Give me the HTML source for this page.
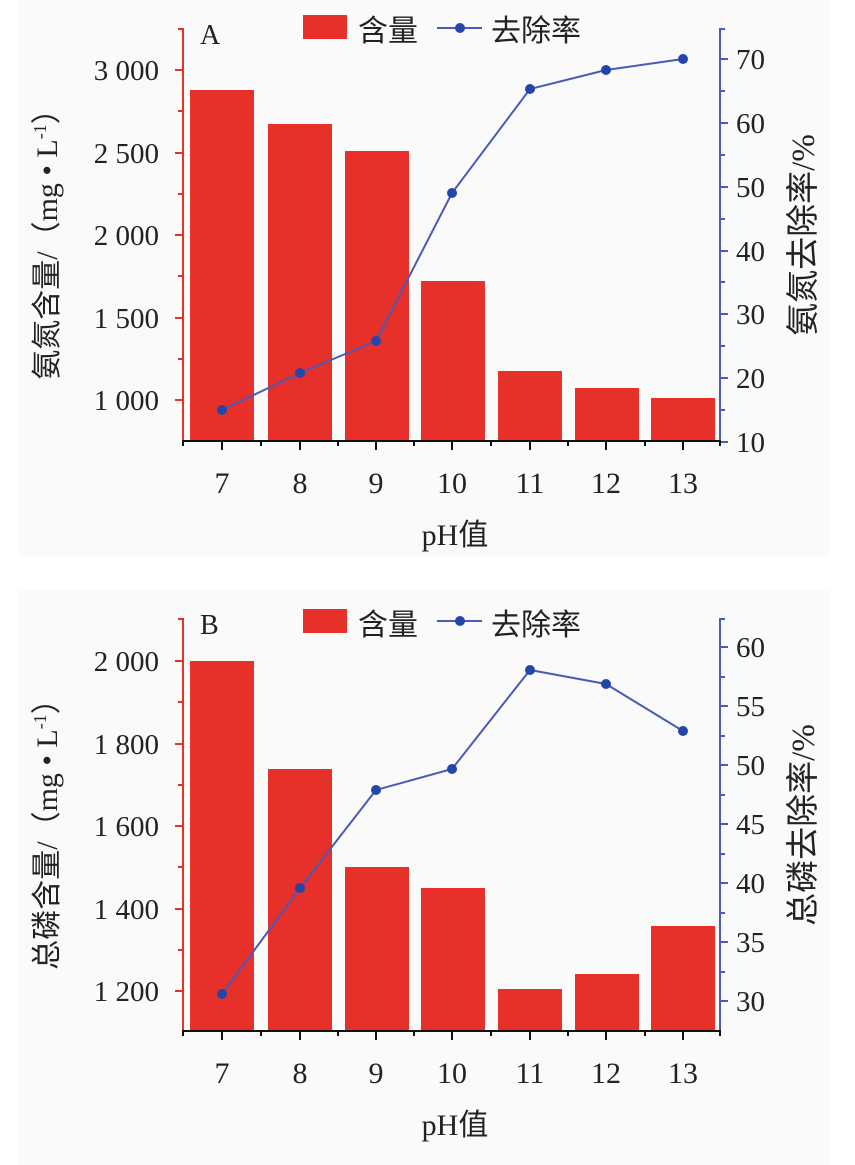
<!DOCTYPE html>
<html><head><meta charset="utf-8"><style>
html,body{margin:0;padding:0;background:#fff;}
svg{display:block}
text{font-family:"Liberation Serif","Noto Serif CJK SC","Noto Sans CJK SC",serif;fill:#222}
.cj{font-family:"Liberation Serif","Noto Sans CJK SC",sans-serif}
</style></head><body>
<svg width="855" height="1165" viewBox="0 0 855 1165" xmlns="http://www.w3.org/2000/svg">
<rect x="18" y="0" width="812" height="556" fill="#fafafa"/>
<rect x="18" y="590" width="812" height="575" fill="#fafafa"/>

<!-- ===== Chart A ===== -->
<g fill="#e8302a">
<rect x="190" y="90" width="64" height="351"/>
<rect x="268" y="124" width="64" height="317"/>
<rect x="345" y="151" width="64" height="290"/>
<rect x="421" y="281" width="64" height="160"/>
<rect x="498" y="371" width="64" height="70"/>
<rect x="575" y="388" width="64" height="53"/>
<rect x="651" y="398" width="64" height="43"/>
</g>
<g stroke="#e8302a" stroke-width="2">
<line x1="183" y1="28" x2="183" y2="441"/>
<line x1="175" y1="70" x2="183" y2="70"/><line x1="175" y1="153" x2="183" y2="153"/><line x1="175" y1="235" x2="183" y2="235"/><line x1="175" y1="318" x2="183" y2="318"/><line x1="175" y1="400" x2="183" y2="400"/>
<line x1="178" y1="29" x2="183" y2="29"/><line x1="178" y1="111" x2="183" y2="111"/><line x1="178" y1="194" x2="183" y2="194"/><line x1="178" y1="276" x2="183" y2="276"/><line x1="178" y1="359" x2="183" y2="359"/>
</g>
<g stroke="#4a5ab5" stroke-width="2">
<line x1="720" y1="28" x2="720" y2="442"/>
<line x1="720" y1="59" x2="728" y2="59"/><line x1="720" y1="123" x2="728" y2="123"/><line x1="720" y1="187" x2="728" y2="187"/><line x1="720" y1="251" x2="728" y2="251"/><line x1="720" y1="314" x2="728" y2="314"/><line x1="720" y1="378" x2="728" y2="378"/><line x1="720" y1="442" x2="728" y2="442"/>
<line x1="720" y1="29" x2="725" y2="29"/><line x1="720" y1="91" x2="725" y2="91"/><line x1="720" y1="155" x2="725" y2="155"/><line x1="720" y1="219" x2="725" y2="219"/><line x1="720" y1="282" x2="725" y2="282"/><line x1="720" y1="346" x2="725" y2="346"/><line x1="720" y1="410" x2="725" y2="410"/>
</g>
<g stroke="#111" stroke-width="2">
<line x1="182" y1="441" x2="721" y2="441"/>
<line x1="222" y1="441" x2="222" y2="450"/><line x1="300" y1="441" x2="300" y2="450"/><line x1="376" y1="441" x2="376" y2="450"/><line x1="452" y1="441" x2="452" y2="450"/><line x1="530" y1="441" x2="530" y2="450"/><line x1="606" y1="441" x2="606" y2="450"/><line x1="683" y1="441" x2="683" y2="450"/>
<line x1="183" y1="441" x2="183" y2="446"/><line x1="261" y1="441" x2="261" y2="446"/><line x1="338" y1="441" x2="338" y2="446"/><line x1="414" y1="441" x2="414" y2="446"/><line x1="491" y1="441" x2="491" y2="446"/><line x1="568" y1="441" x2="568" y2="446"/><line x1="645" y1="441" x2="645" y2="446"/><line x1="720" y1="441" x2="720" y2="446"/>
</g>
<polyline fill="none" stroke="#4a5ab5" stroke-width="2" points="222,410 300,373 376,341 452,193 530,89 606,70 683,59"/>
<g fill="#2446a8">
<circle cx="222" cy="410" r="5"/><circle cx="300" cy="373" r="5"/><circle cx="376" cy="341" r="5"/><circle cx="452" cy="193" r="5"/><circle cx="530" cy="89" r="5"/><circle cx="606" cy="70" r="5"/><circle cx="683" cy="59" r="5"/>
</g>
<g font-size="29" text-anchor="end">
<text x="159" y="80">3 000</text><text x="159" y="163">2 500</text><text x="159" y="245">2 000</text><text x="159" y="328">1 500</text><text x="159" y="410">1 000</text>
</g>
<g font-size="29">
<text x="736" y="69">70</text><text x="736" y="133">60</text><text x="736" y="197">50</text><text x="736" y="261">40</text><text x="736" y="324">30</text><text x="736" y="388">20</text><text x="736" y="452">10</text>
</g>
<g font-size="30" text-anchor="middle">
<text x="222" y="493">7</text><text x="300" y="493">8</text><text x="376" y="493">9</text><text x="452" y="493">10</text><text x="530" y="493">11</text><text x="606" y="493">12</text><text x="683" y="493">13</text>
<text x="455" y="545" class="cj">pH值</text>
</g>
<text x="200" y="44" font-size="28">A</text>
<rect x="303" y="15" width="44" height="24" fill="#e8302a"/>
<text x="358" y="41" font-size="30" class="cj">含量</text>
<line x1="437" y1="28" x2="482" y2="28" stroke="#4a5ab5" stroke-width="2"/><circle cx="460" cy="28" r="5" fill="#2446a8"/>
<text x="491" y="41" font-size="30" class="cj">去除率</text>
<text transform="translate(57,237) rotate(-90)" text-anchor="middle" font-size="30" class="cj">氨氮含量/（mg • L<tspan font-size="18" dy="-11">-1</tspan><tspan dy="11">）</tspan></text>
<text transform="translate(814,235) rotate(-90)" text-anchor="middle" font-size="33" class="cj">氨氮去除率/%</text>

<!-- ===== Chart B ===== -->
<g fill="#e8302a">
<rect x="190" y="661" width="64" height="370"/>
<rect x="268" y="769" width="64" height="262"/>
<rect x="345" y="867" width="64" height="164"/>
<rect x="421" y="888" width="64" height="143"/>
<rect x="498" y="989" width="64" height="42"/>
<rect x="575" y="974" width="64" height="57"/>
<rect x="651" y="926" width="64" height="105"/>
</g>
<g stroke="#e8302a" stroke-width="2">
<line x1="183" y1="618" x2="183" y2="1031"/>
<line x1="175" y1="661" x2="183" y2="661"/><line x1="175" y1="744" x2="183" y2="744"/><line x1="175" y1="826" x2="183" y2="826"/><line x1="175" y1="909" x2="183" y2="909"/><line x1="175" y1="991" x2="183" y2="991"/>
<line x1="178" y1="619" x2="183" y2="619"/><line x1="178" y1="702" x2="183" y2="702"/><line x1="178" y1="785" x2="183" y2="785"/><line x1="178" y1="867" x2="183" y2="867"/><line x1="178" y1="950" x2="183" y2="950"/>
</g>
<g stroke="#4a5ab5" stroke-width="2">
<line x1="720" y1="618" x2="720" y2="1032"/>
<line x1="720" y1="647" x2="728" y2="647"/><line x1="720" y1="706" x2="728" y2="706"/><line x1="720" y1="765" x2="728" y2="765"/><line x1="720" y1="824" x2="728" y2="824"/><line x1="720" y1="883" x2="728" y2="883"/><line x1="720" y1="942" x2="728" y2="942"/><line x1="720" y1="1001" x2="728" y2="1001"/>
<line x1="720" y1="619" x2="725" y2="619"/><line x1="720" y1="677" x2="725" y2="677"/><line x1="720" y1="736" x2="725" y2="736"/><line x1="720" y1="795" x2="725" y2="795"/><line x1="720" y1="854" x2="725" y2="854"/><line x1="720" y1="913" x2="725" y2="913"/><line x1="720" y1="972" x2="725" y2="972"/>
</g>
<g stroke="#111" stroke-width="2">
<line x1="182" y1="1031" x2="721" y2="1031"/>
<line x1="222" y1="1031" x2="222" y2="1040"/><line x1="300" y1="1031" x2="300" y2="1040"/><line x1="376" y1="1031" x2="376" y2="1040"/><line x1="452" y1="1031" x2="452" y2="1040"/><line x1="530" y1="1031" x2="530" y2="1040"/><line x1="606" y1="1031" x2="606" y2="1040"/><line x1="683" y1="1031" x2="683" y2="1040"/>
<line x1="183" y1="1031" x2="183" y2="1036"/><line x1="261" y1="1031" x2="261" y2="1036"/><line x1="338" y1="1031" x2="338" y2="1036"/><line x1="414" y1="1031" x2="414" y2="1036"/><line x1="491" y1="1031" x2="491" y2="1036"/><line x1="568" y1="1031" x2="568" y2="1036"/><line x1="645" y1="1031" x2="645" y2="1036"/><line x1="720" y1="1031" x2="720" y2="1036"/>
</g>
<polyline fill="none" stroke="#4a5ab5" stroke-width="2" points="222,994 300,888 376,790 452,769 530,670 606,684 683,731"/>
<g fill="#2446a8">
<circle cx="222" cy="994" r="5"/><circle cx="300" cy="888" r="5"/><circle cx="376" cy="790" r="5"/><circle cx="452" cy="769" r="5"/><circle cx="530" cy="670" r="5"/><circle cx="606" cy="684" r="5"/><circle cx="683" cy="731" r="5"/>
</g>
<g font-size="29" text-anchor="end">
<text x="159" y="671">2 000</text><text x="159" y="754">1 800</text><text x="159" y="836">1 600</text><text x="159" y="919">1 400</text><text x="159" y="1001">1 200</text>
</g>
<g font-size="29">
<text x="736" y="657">60</text><text x="736" y="716">55</text><text x="736" y="775">50</text><text x="736" y="834">45</text><text x="736" y="893">40</text><text x="736" y="952">35</text><text x="736" y="1011">30</text>
</g>
<g font-size="30" text-anchor="middle">
<text x="222" y="1083">7</text><text x="300" y="1083">8</text><text x="376" y="1083">9</text><text x="452" y="1083">10</text><text x="530" y="1083">11</text><text x="606" y="1083">12</text><text x="683" y="1083">13</text>
<text x="455" y="1135" class="cj">pH值</text>
</g>
<text x="200" y="634" font-size="28">B</text>
<rect x="303" y="609" width="44" height="24" fill="#e8302a"/>
<text x="358" y="635" font-size="30" class="cj">含量</text>
<line x1="437" y1="621" x2="482" y2="621" stroke="#4a5ab5" stroke-width="2"/><circle cx="460" cy="621" r="5" fill="#2446a8"/>
<text x="491" y="635" font-size="30" class="cj">去除率</text>
<text transform="translate(57,827) rotate(-90)" text-anchor="middle" font-size="30" class="cj">总磷含量/（mg • L<tspan font-size="18" dy="-11">-1</tspan><tspan dy="11">）</tspan></text>
<text transform="translate(814,825) rotate(-90)" text-anchor="middle" font-size="33" class="cj">总磷去除率/%</text>
</svg>
</body></html>
